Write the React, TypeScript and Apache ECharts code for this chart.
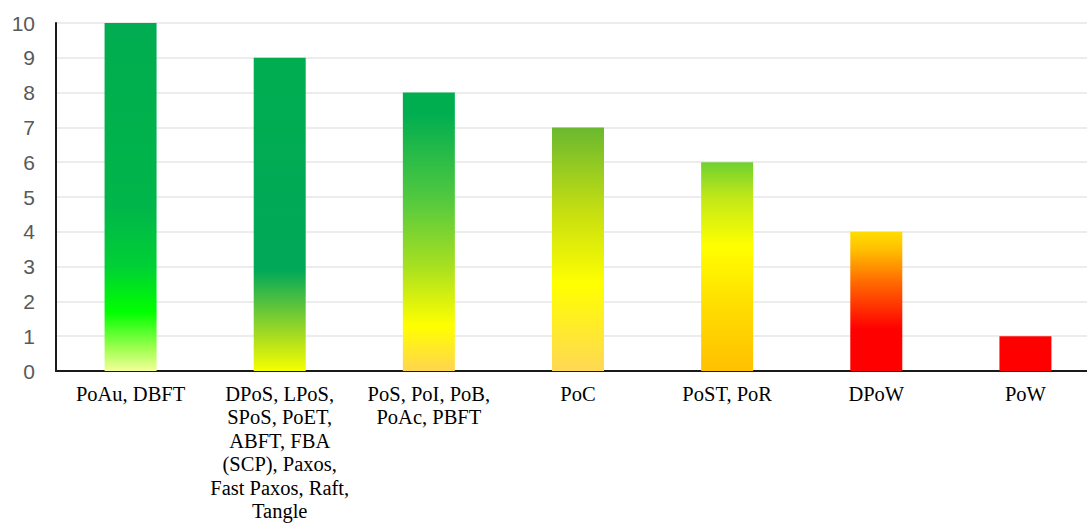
import React, { useEffect, useRef } from "react";
import * as echarts from "echarts";

const categories = [
  "PoAu, DBFT",
  "DPoS, LPoS,\nSPoS, PoET,\nABFT, FBA\n(SCP), Paxos,\nFast Paxos, Raft,\nTangle",
  "PoS, PoI, PoB,\nPoAc, PBFT",
  "PoC",
  "PoST, PoR",
  "DPoW",
  "PoW",
];
const values = [10, 9, 8, 7, 6, 4, 1];
const yTicks = [0, 1, 2, 3, 4, 5, 6, 7, 8, 9, 10];

// gradient stops per bar: [level on value axis, colour]
const barStops: [number, string][][] = [
  [[0, "#f2ff99"], [0.6, "#a6ff55"], [1.7, "#00ff00"], [3, "#00d035"], [4.7, "#00b64a"], [10, "#00ac50"]],
  [[0, "#f5ff00"], [1, "#a8dc20"], [2, "#50c040"], [2.9, "#00a858"], [9, "#00ae50"]],
  [[0, "#ffd54f"], [1.3, "#ffff00"], [3, "#a8e020"], [5, "#50c840"], [7.4, "#00ae50"], [8, "#00ae50"]],
  [[0, "#ffd855"], [2.5, "#ffff00"], [4.5, "#c8e010"], [7, "#6ab82f"]],
  [[0, "#ffc000"], [2, "#ffe000"], [3.6, "#ffff00"], [5, "#c0e818"], [6, "#70d030"]],
  [[0, "#ff0000"], [1.2, "#ff0000"], [2.5, "#ff6600"], [3.5, "#ffc000"], [4, "#ffdd00"]],
  [[0, "#ff0000"], [1, "#ff0000"]],
];

function gradientFor(i: number) {
  const h = values[i];
  const stops = barStops[i]
    .map(([v, c]) => ({ offset: Math.min(1, Math.max(0, (h - v) / h)), color: c }))
    .sort((a, b) => a.offset - b.offset);
  return new echarts.graphic.LinearGradient(0, 0, 0, 1, stops);
}

export default function App() {
  const ref = useRef<HTMLDivElement>(null);
  useEffect(() => {
    if (!ref.current) return;
    const chart = echarts.init(ref.current, undefined, { renderer: "svg" });
    chart.setOption({
      animation: false,
      grid: { left: 56, right: 0, top: 23, bottom: 155, containLabel: false, outerBoundsMode: "none" },
      xAxis: {
        type: "category",
        data: categories,
        axisLine: { show: true, lineStyle: { color: "#1a1a1a", width: 2 } },
        axisTick: { show: false },
        axisLabel: {
          interval: 0,
          fontFamily: "Liberation Serif",
          fontSize: 20.5,
          color: "#000",
          lineHeight: 23.5,
          margin: 11,
          verticalAlign: "top",
        },
      },
      yAxis: {
        type: "value",
        min: yTicks[0],
        max: yTicks[yTicks.length - 1],
        interval: 1,
        axisLine: { show: true, lineStyle: { color: "#1a1a1a", width: 2 } },
        axisTick: { show: false },
        axisLabel: { color: "#595959", fontSize: 21, fontFamily: "Liberation Sans", margin: 21 },
        splitLine: { show: true, lineStyle: { color: "#e6e6e6", width: 1.5 } },
      },
      series: [
        {
          type: "bar",
          barWidth: 52,
          data: values.map((v, i) => ({ value: v, itemStyle: { color: gradientFor(i) } })),
        },
      ],
    });
    return () => chart.dispose();
  }, []);
  return (
    <div style={{ position: "absolute", left: 0, top: 0, width: 1087, height: 526, overflow: "hidden", background: "#fff" }}>
      <div ref={ref} style={{ width: 1100, height: 526 }} />
    </div>
  );
}
